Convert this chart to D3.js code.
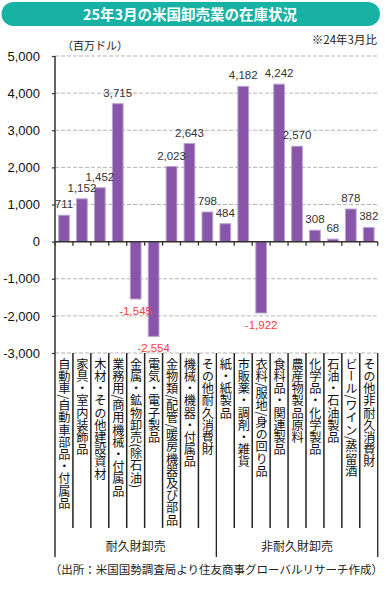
<!DOCTYPE html>
<html><head><meta charset="utf-8">
<script src="https://cdn.jsdelivr.net/npm/d3@7"></script>
<style>
html,body{margin:0;padding:0;background:#fff;}
svg{display:block;}
text{font-family:"Liberation Sans",Arial,sans-serif;}
.jp{font-family:"Noto Sans CJK JP","Noto Sans",sans-serif;}
</style></head>
<body>
<script>
const categories = [
  "自動車/自動車部品・付属品","家具・室内装飾品","木材・その他建設資材","業務用/商用機械・付属品",
  "金属・鉱物卸売(除石油)","電気・電子製品","金物類/配管/暖房機器及び部品","機械・機器・付属品",
  "その他耐久消費財","紙・紙製品","市販薬・調剤・雑貨","衣料/服地/身の回り品","食料品・関連製品",
  "農産物製品原料","化学品・化学製品","石油・石油製品","ビール/ワイン/蒸留酒","その他非耐久消費財"];
const values = [711,1152,1452,3715,-1545,-2554,2023,2643,798,484,4182,-1922,4242,2570,308,68,878,382];
const groups = ["耐久財卸売","非耐久財卸売"];
const groupSizes = [9,9];
const yTicks = [5000,4000,3000,2000,1000,0,-1000,-2000,-3000];
const title = "25年3月の米国卸売業の在庫状況";
const unitLabel = "（百万ドル）";
const noteLabel = "※24年3月比";
const sourceLabel = "（出所：米国国勢調査局より住友商事グローバルリサーチ作成）";

(function(){
const W=390,H=599;
const svg=d3.select("body").append("svg").attr("width",W).attr("height",H);
const pLeft=55,pRight=377.7,pTop=56,pBottom=353;
const y=d3.scaleLinear().domain([-3000,5000]).range([pBottom,pTop]);
const x=d3.scaleBand().domain(categories).range([pLeft,pRight]).paddingInner(0.4).paddingOuter(0.2);
const step=x.step();
const loc=d3.formatLocale({decimal:".",thousands:",",grouping:[3],currency:["$",""],minus:"-"});
const fmt=loc.format(",");

// title
svg.append("rect").attr("x",1.5).attr("y",2).attr("width",378.5).attr("height",24).attr("rx",12).attr("fill","#17b2a4");
svg.append("text").attr("class","jp").attr("x",190).attr("y",19.5).attr("text-anchor","middle")
  .attr("fill","#fff").attr("font-size",14.5).attr("font-weight","bold").text(title);
svg.append("text").attr("class","jp").attr("x",377).attr("y",44).attr("text-anchor","end")
  .attr("fill","#222").attr("font-size",11.5).text(noteLabel);
svg.append("text").attr("class","jp").attr("x",62).attr("y",50).attr("fill","#222").attr("font-size",11).text(unitLabel);

// grid
yTicks.filter(d=>d!==0).forEach(t=>{
  svg.append("line").attr("x1",pLeft).attr("x2",pRight).attr("y1",y(t)).attr("y2",y(t))
    .attr("stroke","#b5b5b5").attr("stroke-width",1).attr("stroke-dasharray","4,2");
});
// y axis labels
const yAxis=d3.axisLeft(y).tickValues(yTicks).tickSize(3).tickFormat(fmt);
const ga=svg.append("g").attr("transform",`translate(${pLeft},0)`).call(yAxis);
ga.select(".domain").remove();
ga.selectAll(".tick line").attr("stroke","#333").attr("stroke-width",1.2);
ga.selectAll(".tick text").attr("x",-15).attr("font-size",13).attr("fill","#111")
  .attr("font-family","'Liberation Sans',Arial,sans-serif");

// bars
svg.selectAll("rect.bar").data(values).join("rect").attr("class","bar")
  .attr("x",(d,i)=>x(categories[i])).attr("width",x.bandwidth())
  .attr("y",d=>y(Math.max(0,d))).attr("height",d=>Math.abs(y(d)-y(0)))
  .attr("fill","#8856a9").attr("stroke","#bda3d4").attr("stroke-width",1);

// value labels
svg.selectAll("text.val").data(values).join("text").attr("class","val")
  .attr("x",(d,i)=>x(categories[i])+x.bandwidth()/2)
  .attr("y",d=>d>=0? y(d)-7 : y(d)+16)
  .attr("text-anchor","middle").attr("font-size",11.5)
  .attr("fill",d=>d>=0?"#333":"#ff3b3b").text(d=>fmt(d));

// zero line
svg.append("line").attr("x1",pLeft).attr("x2",pRight).attr("y1",y(0)).attr("y2",y(0)).attr("stroke","#333").attr("stroke-width",1.5);
const bounds=d3.range(categories.length+1).map(i=>pLeft+i*step);
bounds.forEach(b=>{
  svg.append("line").attr("x1",b).attr("x2",b).attr("y1",y(0)).attr("y2",y(0)+4).attr("stroke","#333").attr("stroke-width",1.3);
});
// y axis line
svg.append("line").attr("x1",pLeft).attr("x2",pLeft).attr("y1",pTop).attr("y2",557).attr("stroke","#333").attr("stroke-width",1.5);
// separators
let acc=0; const groupBounds=[0];
groupSizes.forEach(s=>{acc+=s;groupBounds.push(acc);});
bounds.forEach((b,i)=>{
  if(i===0) return;
  const isGroup=groupBounds.includes(i);
  svg.append("line").attr("x1",b).attr("x2",b).attr("y1",pBottom).attr("y2",isGroup?557:528)
    .attr("stroke","#222").attr("stroke-width",isGroup?1.3:1.5);
});
// category labels (vertical)
svg.selectAll("text.cat").data(categories).join("text").attr("class","cat jp")
  .attr("x",d=>x(d)+x.bandwidth()/2+0.5).attr("y",358)
  .style("writing-mode","vertical-rl").style("text-orientation","mixed")
  .attr("font-size",12.2).attr("fill","#111").text(d=>d);
// group labels
groups.forEach((g,i)=>{
  const x0=pLeft+groupBounds[i]*step, x1=pLeft+groupBounds[i+1]*step;
  svg.append("text").attr("class","jp").attr("x",(x0+x1)/2).attr("y",551).attr("text-anchor","middle")
    .attr("font-size",12).attr("fill","#222").text(g);
});
svg.append("text").attr("class","jp").attr("x",383).attr("y",574).attr("text-anchor","end")
  .attr("font-size",11.5).attr("fill","#222").text(sourceLabel);
})();
</script>
</body></html>
